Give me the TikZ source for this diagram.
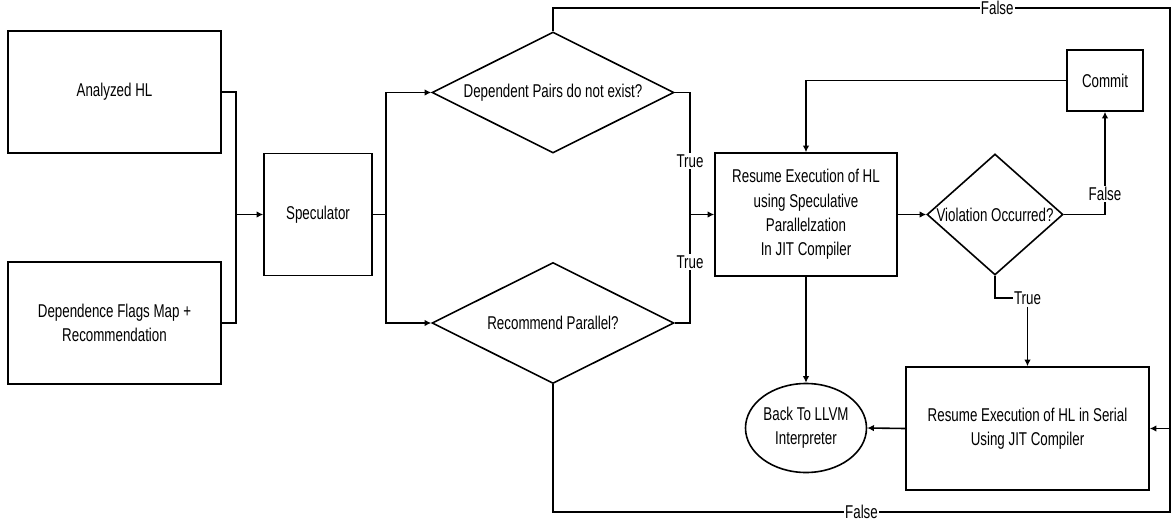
\documentclass[tikz,border=0pt]{standalone}
\usepackage{fontspec}
\setmainfont{Liberation Sans}[FakeStretch=0.72]
\usetikzlibrary{shapes.geometric,arrows.meta}

\begin{document}
\begin{tikzpicture}[x=0.75pt,y=0.75pt,yscale=-1,xscale=1,line width=1.2pt,
  every node/.style={font=\fontsize{13.9}{18.3}\selectfont},
  box/.style={draw,align=center,inner sep=0pt},
  decision/.style={draw,diamond,align=center,inner sep=0pt,aspect=2},
  lbl/.style={fill=white,inner sep=1pt},
  >={Latex[length=5pt,width=5pt]}]
\useasboundingbox (0,0) rectangle (1172,525);

%Shape: Rectangle
\node[box,minimum width=159.75pt,minimum height=91.5pt] (hl) at (114.5,92) {Analyzed HL};
\node[box,minimum width=159.75pt,minimum height=91.5pt] (dfm) at (114.5,323) {Dependence Flags Map +\\Recommendation};
\node[box,minimum width=81pt,minimum height=91.5pt] (spec) at (318,214.5) {Speculator};
%Shape: Diamond
\node[decision,minimum width=181.5pt,minimum height=90.75pt] (dpair) at (553,92.5) {Dependent Pairs do not exist?};
\node[decision,minimum width=181.5pt,minimum height=90.75pt] (rpar) at (553,323) {Recommend Parallel?};
%Shape: Rectangle
\node[box,minimum width=136.5pt,minimum height=92.25pt] (spx) at (806,214.5) {Resume Execution of HL\\using Speculative\\Parallelzation\\In JIT Compiler};
\node[decision,aspect=1.15,minimum width=102pt,minimum height=90.75pt] (viol) at (995,214.5) {Violation Occurred?};
\node[box,minimum width=57pt,minimum height=45.75pt] (commit) at (1105,80.5) {Commit};
%Shape: Ellipse
\node[draw,ellipse,align=center,inner sep=0pt,minimum width=90.75pt,minimum height=66.75pt] (llvm) at (806,428) {Back To LLVM\\Interpreter};
\node[box,minimum width=182.25pt,minimum height=92.25pt] (ser) at (1027.5,428.5) {Resume Execution of HL in Serial\\Using JIT Compiler};

%Straight Lines
\coordinate (j1) at (236,214.5);
\draw (hl.east) -| (j1);
\draw (dfm.east) -| (j1);
\draw[->] (j1) -- (spec.west);

\coordinate (j2) at (386,214.5);
\draw (spec.east) -- (j2);
\draw[->] (j2) |- (dpair.west);
\draw[->] (j2) |- (rpar.west);

\coordinate (j3) at (690,214.5);
\draw (dpair.east) -| node[lbl,pos=0.78] {True} (j3);
\draw (rpar.east) -| node[lbl,pos=0.78] {True} (j3);
\draw[->] (j3) -- (spx.west);

\draw[->] (spx.east) -- (viol.west);
\draw[->] (viol.east) -| node[lbl,pos=0.6] {False} (commit.south);
\draw[->] (commit.west) -| (spx.north);
\draw[->] (spx.south) -- (llvm.north);

\coordinate (j4) at (1027.5,298);
\draw (viol.south) |- (j4) node[lbl] (tl) {True};
\draw[->] (tl.south) -- (ser.north);
\draw[->] (ser.west) -- (llvm.east);

%False loops
\coordinate (tr) at (1170,8);
\coordinate (br) at (1170,512);
\coordinate (j5) at (1170,428.5);
\draw (dpair.north) |- node[lbl,pos=0.86] {False} (tr) -- (j5);
\draw (rpar.south) |- node[lbl,pos=0.75] {False} (br) -- (j5);
\draw[->] (j5) -- (ser.east);

\end{tikzpicture}
\end{document}
